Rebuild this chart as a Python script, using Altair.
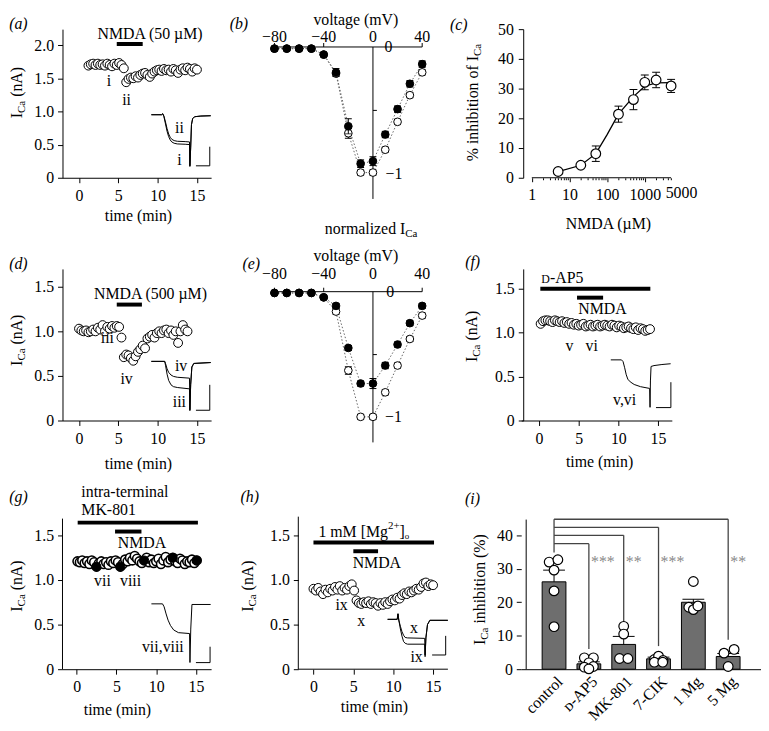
import altair as alt
import pandas as pd

FONT = "Liberation Serif"

# ---------------- data ----------------
# (a) NMDA 50 uM time course
a_t = [1.2, 1.5, 1.8, 2.1, 2.4, 2.7, 3.0, 3.3, 3.6, 3.9, 4.2, 4.5, 4.8, 5.1, 5.4, 5.7, 6.0, 6.3, 6.6, 6.9,
       7.2, 7.5, 7.8, 8.1, 8.4, 8.7, 9.0, 9.3, 9.6, 9.9, 10.2, 10.5, 10.8, 11.1, 11.4, 11.7, 12.0, 12.3,
       12.6, 12.9, 13.2, 13.5, 13.8, 14.1, 14.4, 14.7, 15.0]
a_v = [1.69, 1.71, 1.72, 1.70, 1.72, 1.70, 1.71, 1.69, 1.72, 1.70, 1.68, 1.72, 1.70, 1.73, 1.70, 1.65,
       1.44, 1.49, 1.51, 1.50, 1.53, 1.51, 1.55, 1.57, 1.58, 1.55, 1.52, 1.57, 1.60, 1.62, 1.63, 1.61,
       1.64, 1.62, 1.63, 1.60, 1.64, 1.62, 1.58, 1.63, 1.65, 1.62, 1.66, 1.64, 1.60, 1.65, 1.63]
a_tr_t = [9.2, 10.5, 10.65, 10.8, 11.0, 11.2, 11.4, 11.6, 11.8, 12.1, 12.5, 13.5, 14.05, 14.1, 14.2,
          14.3, 14.45, 14.7, 15.5, 16.75]
a_tr_ii = [0.95, 0.95, 0.965, 0.93, 0.84, 0.74, 0.66, 0.61, 0.58, 0.56, 0.55, 0.545, 0.54, 0.18, 0.45,
           0.80, 0.89, 0.92, 0.93, 0.935]
a_tr_i = [0.95, 0.95, 0.965, 0.92, 0.81, 0.70, 0.62, 0.57, 0.54, 0.52, 0.51, 0.505, 0.50, 0.17, 0.45,
          0.80, 0.89, 0.92, 0.93, 0.935]

# (b), (e) I-V relations
volt = [-80, -70, -60, -50, -40, -30, -20, -10, 0, 10, 20, 30, 40]
b_fill = [-0.013, -0.013, -0.013, -0.013, -0.06, -0.20, -0.625, -0.92, -0.90, -0.69, -0.49, -0.29, -0.135]
b_open = [-0.013, -0.013, -0.013, -0.013, -0.06, -0.21, -0.68, -0.99, -0.99, -0.81, -0.59, -0.38, -0.20]
b_err_f = [0, 0, 0, 0, 0.01, 0.03, 0.06, 0.03, 0.035, 0.025, 0.025, 0.025, 0.025]
b_err_o = [0, 0, 0, 0, 0.01, 0.02, 0.04, 0.02, 0.02, 0.02, 0.02, 0.02, 0.02]
e_fill = [-0.01, -0.01, -0.01, -0.01, -0.045, -0.113, -0.447, -0.73, -0.73, -0.587, -0.42, -0.25, -0.113]
e_open = [-0.01, -0.01, -0.01, -0.01, -0.045, -0.158, -0.626, -0.995, -0.995, -0.80, -0.587, -0.376, -0.19]
e_err_f = [0, 0, 0, 0, 0.01, 0.02, 0.02, 0.02, 0.04, 0.025, 0.02, 0.02, 0.02]
e_err_o = [0, 0, 0, 0, 0.01, 0.02, 0.03, 0.02, 0.02, 0.02, 0.02, 0.02, 0.02]
volt_ticks = [-80, -40, 0, 40]
volt_labels = ["\u221280", "\u221240", "0", "40"]

# (c) dose response
c_conc = [5, 20, 50, 200, 500, 1000, 2000, 5000]
c_mean = [2.1, 4.2, 8.1, 21.4, 26.3, 32.1, 32.9, 30.9]
c_err = [0, 0, 2.6, 2.7, 3.4, 2.5, 2.6, 2.2]
c_fit_x = [5, 20, 50, 100, 200, 500, 1000, 2000, 5000]
c_fit_y = [2.1, 4.2, 8.1, 14.5, 21.4, 27.3, 30.8, 31.9, 32.0]
c_ticks = [1, 2, 3, 4, 5, 6, 7, 8, 9, 10, 20, 30, 40, 50, 60, 70, 80, 90, 100, 200, 300, 400, 500, 600,
           700, 800, 900, 1000, 2000, 3000, 4000, 5000]
c_labels = [1, 10, 100, 1000, 5000]

# (d) NMDA 500 uM time course
d_t = [0.0, 0.3, 0.6, 0.9, 1.2, 1.5, 1.8, 2.1, 2.4, 2.7, 3.0, 3.3, 3.6, 3.9, 4.2, 4.5, 4.8, 5.1, 5.4, 5.7,
       6.0, 6.3, 6.6, 6.9, 7.2, 7.5, 7.8, 8.1, 8.4, 8.7, 9.0, 9.3, 9.6, 9.9, 10.2, 10.5, 10.8, 11.1, 11.4,
       11.7, 12.0, 12.3, 12.6, 12.9, 13.2, 13.5, 13.8]
d_v = [1.03, 1.01, 1.00, 1.01, 0.99, 1.00, 1.02, 1.00, 1.04, 1.02, 1.07, 1.00, 1.05, 1.03, 1.06, 1.04,
       1.06, 1.05, 0.93, 0.71, 0.74, 0.73, 0.70, 0.67, 0.72, 0.77, 0.80, 0.84, 0.81, 0.92, 0.94, 0.96,
       0.93, 0.98, 1.00, 0.98, 1.01, 1.02, 0.98, 1.01, 0.96, 1.00, 0.87, 1.00, 1.07, 1.02, 1.00]
d_tr_t = [9.2, 10.9, 11.0, 11.2, 11.4, 11.7, 12.0, 12.5, 14.05, 14.1, 14.2, 14.35, 14.6, 16.75]
d_tr_iv = [0.663, 0.663, 0.64, 0.58, 0.54, 0.51, 0.495, 0.485, 0.475, 0.12, 0.40, 0.60, 0.64, 0.65]
d_tr_iii = [0.663, 0.663, 0.62, 0.52, 0.45, 0.40, 0.38, 0.37, 0.355, 0.11, 0.40, 0.60, 0.64, 0.65]

# (f) D-AP5
f_t = [0.2, 0.5, 0.8, 1.1, 1.4, 1.7, 2.0, 2.3, 2.6, 2.9, 3.2, 3.5, 3.8, 4.1, 4.4, 4.7, 5.0, 5.3, 5.6, 5.9,
       6.2, 6.5, 6.8, 7.1, 7.4, 7.7, 8.0, 8.3, 8.6, 8.9, 9.2, 9.5, 9.8, 10.1, 10.4, 10.7, 11.0, 11.3, 11.6,
       11.9, 12.2, 12.5, 12.8, 13.1, 13.4, 13.7, 14.0]
f_v = [1.10, 1.13, 1.14, 1.14, 1.13, 1.12, 1.14, 1.13, 1.12, 1.13, 1.11, 1.12, 1.10, 1.11, 1.09, 1.10,
       1.08, 1.09, 1.10, 1.07, 1.08, 1.09, 1.07, 1.08, 1.09, 1.07, 1.08, 1.09, 1.08, 1.07, 1.09, 1.08,
       1.06, 1.08, 1.07, 1.05, 1.06, 1.07, 1.05, 1.04, 1.06, 1.03, 1.05, 1.04, 1.02, 1.03, 1.04]
f_tr_t = [9.05, 10.4, 10.6, 10.8, 11.0, 11.2, 11.5, 12.0, 12.8, 13.95, 14.0, 14.05, 14.13, 14.5, 15.5, 16.6]
f_tr_v = [0.69, 0.69, 0.67, 0.60, 0.52, 0.47, 0.44, 0.41, 0.385, 0.365, 0.15, 0.45, 0.615, 0.625, 0.637, 0.646]

# (g) intra-terminal MK-801
g_t = [0.1, 0.4, 0.7, 1.0, 1.3, 1.6, 1.9, 2.2, 2.5, 2.8, 3.1, 3.4, 3.7, 4.0, 4.3, 4.6, 4.9, 5.2, 5.5, 5.8,
       6.1, 6.4, 6.7, 7.0, 7.3, 7.6, 7.9, 8.2, 8.5, 8.8, 9.1, 9.4, 9.7, 10.0, 10.3, 10.6, 10.9, 11.2, 11.5,
       11.8, 12.1, 12.4, 12.7, 13.0, 13.3, 13.6, 13.9, 14.2, 14.5, 14.8, 15.1]
g_v = [1.21, 1.20, 1.22, 1.19, 1.21, 1.18, 1.22, 1.20, 1.15, 1.19, 1.21, 1.18, 1.20, 1.17, 1.21, 1.19,
       1.22, 1.20, 1.15, 1.18, 1.23, 1.21, 1.25, 1.22, 1.27, 1.24, 1.21, 1.19, 1.22, 1.25, 1.20, 1.23,
       1.19, 1.21, 1.24, 1.18, 1.22, 1.26, 1.20, 1.23, 1.25, 1.21, 1.19, 1.24, 1.22, 1.18, 1.21, 1.20,
       1.23, 1.19, 1.22]
g_fill_t = [2.5, 5.5, 8.5, 12.1, 15.1]
g_fill_v = [1.15, 1.15, 1.22, 1.25, 1.22]
g_tr_t = [9.4, 10.8, 11.0, 11.25, 11.5, 11.8, 12.2, 12.8, 14.2, 14.25, 14.35, 14.5, 16.85]
g_tr_v = [0.733, 0.733, 0.70, 0.62, 0.55, 0.49, 0.44, 0.41, 0.40, 0.075, 0.45, 0.726, 0.726]

# (h) 1 mM Mg
h_t = [0.0, 0.3, 0.6, 0.9, 1.2, 1.5, 1.8, 2.1, 2.4, 2.7, 3.0, 3.3, 3.6, 3.9, 4.2, 4.5, 4.8, 5.1, 5.4, 5.7,
       6.0, 6.3, 6.6, 6.9, 7.2, 7.5, 7.8, 8.1, 8.4, 8.7, 9.0, 9.3, 9.6, 9.9, 10.2, 10.5, 10.8, 11.1, 11.4,
       11.7, 12.0, 12.3, 12.6, 12.9, 13.2, 13.5, 13.8, 14.1, 14.4, 14.7, 15.0]
h_v = [0.90, 0.88, 0.91, 0.87, 0.84, 0.89, 0.86, 0.90, 0.88, 0.92, 0.89, 0.93, 0.88, 0.91, 0.89, 0.93,
       0.95, 0.88, 0.77, 0.74, 0.73, 0.75, 0.74, 0.76, 0.73, 0.75, 0.74, 0.71, 0.74, 0.72, 0.75, 0.73,
       0.76, 0.78, 0.77, 0.80, 0.79, 0.83, 0.85, 0.84, 0.87, 0.86, 0.88, 0.90, 0.89, 0.92, 0.96, 0.97,
       0.93, 0.95, 0.94]
h_tr_t = [9.3, 10.5, 10.6, 10.7, 10.9, 11.1, 11.3, 11.5, 11.8, 13.95, 14.0, 14.1, 14.3, 14.6, 16.85]
h_tr_x = [0.558, 0.558, 0.62, 0.55, 0.48, 0.42, 0.38, 0.355, 0.35, 0.345, 0.16, 0.35, 0.50, 0.547, 0.547]
h_tr_ix = [0.558, 0.558, 0.62, 0.55, 0.45, 0.37, 0.31, 0.29, 0.28, 0.28, 0.14, 0.35, 0.50, 0.547, 0.547]

# (i) summary bars
i_cats = ["control", "\u1d05-AP5", "MK-801", "7-CIK", "1 Mg", "5 Mg"]
i_idx = [0, 1, 2, 3, 4, 5]
i_mean = [26.1, 1.6, 7.4, 3.1, 20.0, 3.8]
i_sem_top = [29.6, 2.2, 9.8, 3.6, 20.9, 4.7]
i_pt_x = [-0.14, 0.11, 0.0, 0.0, 0.0,
          0.87, 1.13, 1.0, 0.87, 1.13, 1.0,
          2.0, 2.0, 1.88, 2.12,
          2.88, 3.0, 3.13, 2.88, 3.12,
          4.0, 3.87, 4.0, 4.13,
          5.17, 4.88, 5.0]
i_pt_y = [32.0, 32.7, 29.6, 23.4, 12.7,
          3.4, 3.4, 1.9, 0.6, 0.8, 0.1,
          12.8, 10.5, 3.2, 3.2,
          2.9, 3.9, 2.6, 2.1, 2.1,
          26.2, 18.5, 17.8, 18.9,
          5.9, 4.8, 0.8]
i_br_target = [1, 2, 3, 5]
i_br_top = [37.5, 40.0, 42.4, 44.8]
i_br_bottom = [6.0, 14.0, 6.9, 8.8]
i_br_stars = ["***", "**", "***", "**"]
i_ctrl_line = [34.9, 44.8]

# ---------------- helpers ----------------
CW = {" ": .25, "(": .333, ")": .333, "[": .333, "]": .333, "%": .833, "+": .564, "-": .333, ".": .25,
      "A": .722, "C": .667, "D": .722, "I": .333, "M": .889, "N": .722, "P": .556, "V": .722,
      "a": .444, "b": .5, "c": .444, "d": .5, "e": .444, "f": .333, "g": .5, "h": .5, "i": .278,
      "l": .278, "m": .778, "n": .5, "o": .5, "r": .333, "t": .278, "v": .5, "x": .5, "z": .444}


def tw(s, size):
    return sum(CW.get(ch, 0.5) for ch in s) * size


class Panel:
    def __init__(self, xdom, ydom, w, h, xaxis=None, yaxis=None, xtype="linear"):
        xs = alt.Scale(domain=xdom, type=xtype, nice=False) if xtype == "log" else \
            alt.Scale(domain=xdom, nice=False, zero=False)
        self.X = alt.X("x:Q", scale=xs, axis=xaxis)
        self.Y = alt.Y("y:Q", scale=alt.Scale(domain=ydom, nice=False, zero=False), axis=yaxis)
        self.w, self.h = w, h
        self.layers = []

    def add(self, *ch):
        for c in ch:
            if isinstance(c, list):
                self.layers.extend(c)
            else:
                self.layers.append(c)

    def chart(self):
        return alt.layer(*self.layers).properties(width=self.w, height=self.h)


def pts(P, xs, ys, size=80, fill="white", sw=1.0):
    df = pd.DataFrame({"x": xs, "y": ys})
    return alt.Chart(df).mark_circle(size=size, fill=fill, stroke="black", strokeWidth=sw,
                                     opacity=1).encode(x=P.X, y=P.Y)


def line(P, xs, ys, color="black", sw=1.0, dash=None):
    df = pd.DataFrame({"x": xs, "y": ys, "o": list(range(len(xs)))})
    kw = dict(color=color, strokeWidth=sw)
    if dash:
        kw["strokeDash"] = dash
    return alt.Chart(df).mark_line(**kw).encode(x=P.X, y=P.Y, order="o:Q")


def hrules(P, x1, x2, y, sw=1.0, color="black"):
    df = pd.DataFrame({"x": x1, "x2": x2, "y": y})
    return alt.Chart(df).mark_rule(strokeWidth=sw, color=color).encode(x=P.X, x2=alt.X2("x2"), y=P.Y)


def vrules(P, x, y1, y2, sw=1.0, color="black"):
    df = pd.DataFrame({"x": x, "y": y1, "y2": y2})
    return alt.Chart(df).mark_rule(strokeWidth=sw, color=color).encode(x=P.X, y=P.Y, y2=alt.Y2("y2"))


def caps(P, xs, ys, size=7, sw=1.0):
    df = pd.DataFrame({"x": xs, "y": ys})
    return alt.Chart(df).mark_tick(orient="horizontal", size=size, thickness=sw, color="black",
                                   opacity=1).encode(x=P.X, y=P.Y)


def T(P, x, y, s, size=16, align="center", baseline="middle", angle=0, dx=0, dy=0, italic=False,
      color="black"):
    df = pd.DataFrame({"x": [x], "y": [y], "s": [s]})
    kw = dict(font=FONT, fontSize=size, align=align, baseline=baseline, dx=dx, dy=dy, color=color)
    if angle:
        kw["angle"] = angle
    if italic:
        kw["fontStyle"] = "italic"
    return alt.Chart(df).mark_text(**kw).encode(x=P.X, y=P.Y, text="s:N")


def RICH(P, x, y, pieces, angle=0, anchor="center"):
    total = sum(tw(t, s) for t, s, _ in pieces)
    cur = -total / 2 if anchor == "center" else 0.0
    out = []
    for t, s, sh in pieces:
        lead = len(t) - len(t.lstrip(" "))
        out.append(T(P, x, y, t.lstrip(" "), size=s, align="left", angle=angle,
                     dx=cur + lead * 0.25 * s, dy=sh))
        cur += tw(t, s)
    return out


def ica_title(P, x, y):
    return RICH(P, x, y, [("I", 16, 0), ("Ca", 11, 5), (" (nA)", 16, 0)], angle=270)


def err_layers(P, xs, ys, errs, cap=7):
    xx, lo, hi = [], [], []
    for x, y, e in zip(xs, ys, errs):
        if e > 0:
            xx.append(x); lo.append(y - e); hi.append(y + e)
    return [vrules(P, xx, lo, hi), caps(P, xx, lo, size=cap), caps(P, xx, hi, size=cap)]


LBL0 = "datum.value == 0 ? '0' : format(datum.value, '.1f')"


def time_x(domain=True):
    return alt.Axis(values=[0, 5, 10, 15], title=None, labelFlush=False, labelOverlap=False,
                    tickSize=5, labelPadding=5, domain=domain)


def ica_y(vals, domain=True, offset=0):
    return alt.Axis(values=vals, title=None, labelExpr=LBL0, labelFlush=False, labelOverlap=False,
                    tickSize=5, labelPadding=4, domain=domain, offset=offset)


# ---------------- (a) ----------------
PA = Panel([-2.1, 16.8], [0, 2.24], 150, 150, time_x(), ica_y([0, 0.5, 1.0, 1.5, 2.0]))
PA.add(line(PA, a_tr_t, a_tr_ii), line(PA, a_tr_t, a_tr_i))
PA.add(vrules(PA, [16.63], [0.18], [0.468]), hrules(PA, [14.87], [16.63], [0.18]))
PA.add(pts(PA, a_t, a_v))
PA.add(hrules(PA, [4.8], [8.1], [2.016], sw=4))
PA.add(T(PA, 9.03, 2.165, "NMDA (50 \u00b5M)"))
PA.add(T(PA, 3.82, 1.46, "i"), T(PA, 6.05, 1.165, "ii"))
PA.add(T(PA, 12.77, 0.75, "ii"), T(PA, 12.77, 0.27, "i"))
PA.add(T(PA, 7.56, -0.582, "time (min)"))
PA.add(T(PA, -7.71, 2.315, "(a)", italic=True))
PA.add(ica_title(PA, -7.90, 1.284))

# ---------------- (b) / (e) ----------------


def iv_panel(ydom, h, fill, opn, errf, erro, lab_v, title_v, letter_x, letter_v, letter, zero_x, m1_x,
             bottom_title):
    P = Panel([-71.9, 60.9], ydom, 165, h, None, None)
    tick_len = 4.0 / (h / (ydom[1] - ydom[0]))
    P.add(hrules(P, [-80], [40], [0]))
    P.add(vrules(P, [-80, -40, 40], [0, 0, 0], [tick_len] * 3))
    P.add(vrules(P, [0], [0], [-1.198]))
    P.add(hrules(P, [0, 0], [3.2, 3.2], [-0.5, -1.0]))
    P.add(line(P, volt, opn, color="#666666", dash=[1.5, 2]))
    P.add(line(P, volt, fill, color="#666666", dash=[1.5, 2]))
    P.add(err_layers(P, volt, opn, erro))
    P.add(pts(P, volt, opn, size=60))
    P.add(err_layers(P, volt, fill, errf))
    P.add(pts(P, volt, fill, size=60, fill="black"))
    for v, l in zip(volt_ticks, volt_labels):
        P.add(T(P, v, lab_v, l))
    P.add(T(P, -13.9, title_v, "voltage (mV)"))
    P.add(T(P, zero_x, 0, "0"), T(P, m1_x, -1.0, "\u22121"))
    P.add(T(P, letter_x, letter_v, letter, italic=True))
    if bottom_title:
        P.add(RICH(P, -1.47, -1.4375, [("normalized I", 16, 0), ("Ca", 11, 5)]))
    return P


PB = iv_panel([-1.031, 0.1406], 150, b_fill, b_open, b_err_f, b_err_o, 0.082, 0.2148, -108.9, 0.1797,
              "(b)", 12.6, 17.0, True)
PE = iv_panel([-1.024, 0.181], 153, e_fill, e_open, e_err_f, e_err_o, 0.1416, 0.2857, -98.9, 0.2204,
              "(e)", 14.0, 16.6, False)

# ---------------- (c) ----------------
maj = "datum.value == 1 || datum.value == 10 || datum.value == 100 || datum.value == 1000"
lab_test = " || ".join("datum.value == %d" % v for v in c_labels)
c_xaxis = alt.Axis(values=c_ticks, title=None, domain=False, labelOverlap=False, labelFlush=False,
                   labelExpr="(%s) ? format(datum.value, 'd') : ''" % lab_test,
                   tickSize={"condition": {"test": maj, "value": 4}, "value": 2},
                   labelOffset={"condition": {"test": "datum.value == 5000", "value": 10}, "value": 0},
                   labelPadding=5)
c_yaxis = alt.Axis(values=[0, 10, 20, 30, 40, 50], title=None, labelFlush=False, labelOverlap=False,
                   tickSize=5, labelPadding=5, offset=-2)
PC = Panel([0.523, 5230], [0, 50], 152, 150, c_xaxis, c_yaxis, xtype="log")
PC.add(hrules(PC, [1], [5000], [0]))
PC.add(line(PC, c_fit_x, c_fit_y, sw=1.3))
PC.add(err_layers(PC, c_conc, c_mean, c_err, cap=8))
PC.add(pts(PC, c_conc, c_mean, size=95, sw=1.2))
PC.add(T(PC, 108.2, -15.67, "NMDA (\u00b5M)"))
PC.add(T(PC, 0.01148, 51.33, "(c)", italic=True))
PC.add(RICH(PC, 0.0268, 25.3, [("% inhibition of I", 16, 0), ("Ca", 11, 5)], angle=270))

# ---------------- (d) ----------------
PD = Panel([-2.1, 16.8], [0, 1.7], 150, 153, time_x(), ica_y([0, 0.5, 1.0, 1.5]))
PD.add(line(PD, d_tr_t, d_tr_iv), line(PD, d_tr_t, d_tr_iii))
PD.add(vrules(PD, [16.63], [0.115], [0.40]), hrules(PD, [14.87], [16.63], [0.115]))
PD.add(pts(PD, d_t, d_v))
PD.add(hrules(PD, [4.8], [8.0], [1.30], sw=4))
PD.add(T(PD, 9.09, 1.42, "NMDA (500 \u00b5M)"))
PD.add(T(PD, 3.61, 0.93, "iii"), T(PD, 6.05, 0.46, "iv"))
PD.add(T(PD, 12.98, 0.61, "iv"), T(PD, 12.77, 0.21, "iii"))
PD.add(T(PD, 7.56, -0.486, "time (min)"))
PD.add(T(PD, -7.71, 1.756, "(d)", italic=True))
PD.add(ica_title(PD, -7.90, 0.90))

# ---------------- (f) ----------------
PF = Panel([-2.25, 16.75], [0, 1.725], 152, 153, time_x(), ica_y([0, 0.5, 1.0, 1.5], offset=-2))
PF.add(line(PF, f_tr_t, f_tr_v))
PF.add(vrules(PF, [16.63], [0.147], [0.436]), hrules(PF, [14.75], [16.63], [0.147]))
PF.add(pts(PF, f_t, f_v))
PF.add(hrules(PF, [0.16], [14.04], [1.50], sw=4))
PF.add(hrules(PF, [4.79], [8.08], [1.398], sw=4))
PF.add(RICH(PF, 0.29, 1.62, [("D", 12, 1), ("-AP5", 16, 0)], anchor="left"))
PF.add(T(PF, 8.0, 1.263, "NMDA"))
PF.add(T(PF, 3.83, 0.853, "v"), T(PF, 6.63, 0.853, "vi"))
PF.add(T(PF, 10.79, 0.229, "v,vi"))
PF.add(T(PF, 7.63, -0.474, "time (min)"))
PF.add(T(PF, -8.375, 1.804, "(f)", italic=True))
PF.add(ica_title(PF, -8.44, 0.958))

# ---------------- (g) ----------------
PG = Panel([-1.78, 16.91], [0, 1.767], 150, 159, time_x(), ica_y([0, 0.5, 1.0, 1.5], domain=False))
PG.add(vrules(PG, [-1.78], [0], [1.689]))
PG.add(line(PG, g_tr_t, g_tr_v))
PG.add(vrules(PG, [16.78], [0.074], [0.252]), hrules(PG, [15.0], [16.78], [0.074]))
PG.add(pts(PG, g_t, g_v, sw=1.6))
PG.add(pts(PG, g_fill_t, g_fill_v, fill="black"))
PG.add(hrules(PG, [0.13], [15.25], [1.644], sw=4))
PG.add(hrules(PG, [4.83], [8.15], [1.544], sw=4))
PG.add(T(PG, 0.59, 1.99, "intra-terminal", align="left"))
PG.add(T(PG, 0.59, 1.785, "MK-801", align="left"))
PG.add(T(PG, 8.22, 1.415, "NMDA"))
PG.add(T(PG, 3.24, 0.99, "vii"), T(PG, 6.78, 0.99, "viii"))
PG.add(T(PG, 10.84, 0.248, "vii,viii"))
PG.add(T(PG, 5.13, -0.456, "time (min)"))
PG.add(T(PG, -7.32, 1.933, "(g)", italic=True))
PG.add(ica_title(PG, -7.51, 0.933))

# ---------------- (h) ----------------
PH = Panel([-3.64, 16.86], [0, 1.763], 165, 159, time_x(domain=False),
           ica_y([0, 0.5, 1.0, 1.5], domain=False, offset=-14))
PH.add(vrules(PH, [-1.9], [0], [1.707]), hrules(PH, [-1.9], [16.86], [0]))
PH.add(line(PH, h_tr_t, h_tr_x), line(PH, h_tr_t, h_tr_ix))
PH.add(vrules(PH, [16.58], [0.159], [0.373]), hrules(PH, [14.88], [16.58], [0.159]))
PH.add(pts(PH, h_t, h_v))
PH.add(hrules(PH, [0.0], [15.12], [1.419], sw=4))
PH.add(hrules(PH, [5.0], [8.1], [1.32], sw=4))
PH.add(RICH(PH, 0.62, 1.533, [("1 mM [Mg", 16, 0), ("2+", 11, -6), ("]", 16, 0), ("o", 9, 4)],
            anchor="left"))
PH.add(T(PH, 7.95, 1.19, "NMDA"))
PH.add(T(PH, 3.53, 0.72, "ix"), T(PH, 6.0, 0.543, "x"))
PH.add(T(PH, 12.6, 0.465, "x"), T(PH, 12.93, 0.14, "ix"))
PH.add(T(PH, 7.64, -0.418, "time (min)"))
PH.add(T(PH, -7.99, 1.93, "(h)", italic=True))
PH.add(ica_title(PH, -8.24, 0.93))

# ---------------- (i) ----------------
cat_js = "[" + ",".join("'%s'" % c for c in i_cats) + "][datum.value]"
i_xaxis = alt.Axis(values=i_idx, labelExpr=cat_js, labelAngle=315, ticks=False, title=None,
                   labelPadding=4, labelFlush=False, labelOverlap=False)
i_yaxis = alt.Axis(values=[0, 10, 20, 30, 40], title=None, labelFlush=False, labelOverlap=False,
                   tickSize=5, labelPadding=4, domain=False)
PI = Panel([-0.8, 5.8], [0, 47.07], 242, 159, i_xaxis, i_yaxis)
PI.add(vrules(PI, [-0.8], [0], [44.7]))
bars = pd.DataFrame({"x": i_idx, "y": i_mean, "y2": [0] * len(i_idx)})
PI.add(alt.Chart(bars).mark_bar(size=24, fill="#6e6e6e", stroke="black", strokeWidth=1).encode(
    x=PI.X, y=PI.Y, y2=alt.Y2("y2")))
PI.add(vrules(PI, i_idx, i_mean, i_sem_top), caps(PI, i_idx, i_sem_top, size=22))
PI.add(vrules(PI, [0], [i_ctrl_line[0]], [i_ctrl_line[1]], color="#444444", sw=1.3))
PI.add(hrules(PI, [0] * 4, i_br_target, i_br_top, color="#444444", sw=1.3))
PI.add(vrules(PI, i_br_target, i_br_bottom, i_br_top, color="#444444", sw=1.3))
PI.add(pts(PI, i_pt_x, i_pt_y, size=95, sw=1.2))
for xt, s in zip(i_br_target, i_br_stars):
    PI.add(T(PI, xt + 0.06, 32.0, s, align="left", color="#8a8a8a"))
PI.add(T(PI, -2.34, 50.9, "(i)", italic=True))
PI.add(RICH(PI, -2.136, 23.8, [("I", 16, 0), ("Ca", 11, 5), (" inhibition (%)", 16, 0)], angle=270))

# ---------------- layout ----------------
chart = alt.concat(PA.chart(), PB.chart(), PC.chart(), PD.chart(), PE.chart(), PF.chart(),
                   PG.chart(), PH.chart(), PI.chart(), columns=3, bounds="flush",
                   spacing={"row": 92, "column": 74}).properties(padding=0, background="white")
chart = chart.configure_view(stroke=None).configure_axis(
    labelFont=FONT, labelFontSize=16, titleFont=FONT, titleFontSize=16, titleFontWeight="normal",
    labelColor="black", titleColor="black", domainColor="black", tickColor="black", grid=False,
    domainWidth=1, tickWidth=1)

chart.save("out.html", embed_options={"renderer": "svg", "actions": False})
